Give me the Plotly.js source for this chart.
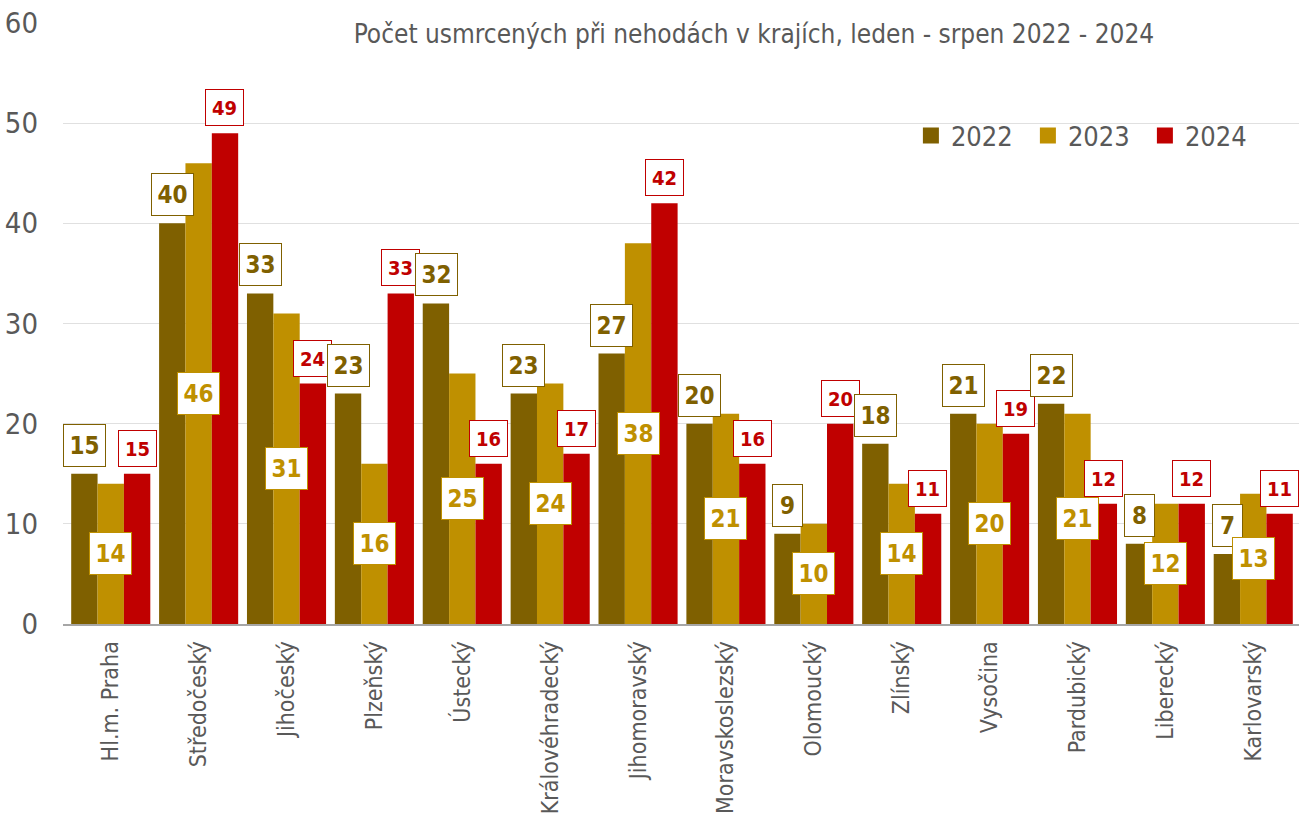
<!DOCTYPE html>
<html>
<head>
<meta charset="utf-8">
<script src="https://cdn.plot.ly/plotly-3.0.1.min.js"></script>
<style>html,body{margin:0;padding:0;background:#fff;}#chart{width:1304px;height:814px;}</style>
</head>
<body>
<div id="chart"></div>
<script>
const regions = ["Hl.m. Praha","Středočeský","Jihočeský","Plzeňský","Ústecký","Královéhradecký","Jihomoravský","Moravskoslezský","Olomoucký","Zlínský","Vysočina","Pardubický","Liberecký","Karlovarský"];
const y2022 = [15,40,33,23,32,23,27,20,9,18,21,22,8,7];
const y2023 = [14,46,31,16,25,24,38,21,10,14,20,21,12,13];
const y2024 = [15,49,24,33,16,17,42,16,20,11,19,12,12,11];
const years = ["2022","2023","2024"];
const colors = ["#7f6000","#bf9000","#c00000"];
const FONT = '"DejaVu Sans Condensed","Liberation Sans Narrow","Arial Narrow",sans-serif';

const series = [y2022, y2023, y2024];
const traces = series.map((vals, i) => ({
  type: 'bar', x: regions, y: vals, name: years[i],
  marker: {color: colors[i]}, showlegend: false, hoverinfo: 'x+y'
}));
years.forEach((yr, i) => traces.push({
  type: 'scatter', mode: 'markers', x: [null], y: [null], name: yr,
  marker: {symbol: 'square', size: 16, color: colors[i]}, showlegend: true
}));

const W = 1304, ML = 63, MR = 5;
const catW = 87.5;
const bargap = 0.1;
const barW = catW * (1 - bargap) / 3;

const annotations = [];
regions.forEach((r, k) => {
  annotations.push({
    x: r, y: y2022[k], xref: 'x', yref: 'y', xshift: -barW, yshift: 7,
    yanchor: 'bottom', text: String(y2022[k]), showarrow: false,
    font: {family: FONT, size: 24, color: colors[0], weight: 'bold'},
    bgcolor: '#fff', bordercolor: colors[0], borderwidth: 1,
    width: String(y2022[k]).length > 1 ? 41 : 29, height: 41, borderpad: 0
  });
  annotations.push({
    x: r, y: y2023[k] / 2, xref: 'x', yref: 'y', xshift: 0,
    yanchor: 'middle', text: String(y2023[k]), showarrow: false,
    font: {family: FONT, size: 24, color: colors[1], weight: 'bold'},
    bgcolor: '#fff', bordercolor: colors[1], borderwidth: 1,
    width: String(y2023[k]).length > 1 ? 41 : 29, height: 41, borderpad: 0
  });
  annotations.push({
    x: r, y: y2024[k], xref: 'x', yref: 'y', xshift: barW, yshift: 7,
    yanchor: 'bottom', text: String(y2024[k]), showarrow: false,
    font: {family: FONT, size: 20, color: colors[2], weight: 'bold'},
    bgcolor: '#fff', bordercolor: colors[2], borderwidth: 1,
    width: String(y2024[k]).length > 1 ? 37 : 27, height: 35, borderpad: 0
  });
});

const layout = {
  width: 1304, height: 814,
  margin: {l: ML, r: MR, t: 23, b: 190},
  paper_bgcolor: '#fff', plot_bgcolor: '#fff',
  barmode: 'group', bargap: bargap, bargroupgap: 0,
  font: {family: FONT, color: '#595959'},
  title: {
    text: 'Počet usmrcených při nehodách v krajích, leden - srpen 2022 - 2024',
    font: {family: FONT, size: 26, color: '#595959'},
    x: 0.559, xref: 'paper', xanchor: 'center',
    y: 1 - 34/814, yref: 'container', yanchor: 'middle'
  },
  xaxis: {
    type: 'category', tickangle: -90, ticks: '', automargin: false,
    tickfont: {family: FONT, size: 23, color: '#595959'},
    showline: true, linecolor: '#a6a6a6', linewidth: 2,
    showgrid: false, zeroline: false, ticklabelstandoff: 6
  },
  yaxis: {
    range: [0, 60], dtick: 10, tick0: 0, ticks: '', automargin: false,
    tickfont: {family: FONT, size: 29, color: '#595959'},
    showgrid: true, gridcolor: '#e0e0e0', gridwidth: 1,
    zeroline: false, showline: false, ticklabelstandoff: 24
  },
  legend: {
    orientation: 'h', x: 0.686, xanchor: 'left', y: 0.812, yanchor: 'middle',
    font: {family: FONT, size: 27, color: '#595959'},
    bgcolor: 'rgba(0,0,0,0)', entrywidth: 72, entrywidthmode: 'pixels'
  },
  annotations: annotations
};

Plotly.newPlot('chart', traces, layout, {displayModeBar: false, staticPlot: true});
</script>
</body>
</html>
